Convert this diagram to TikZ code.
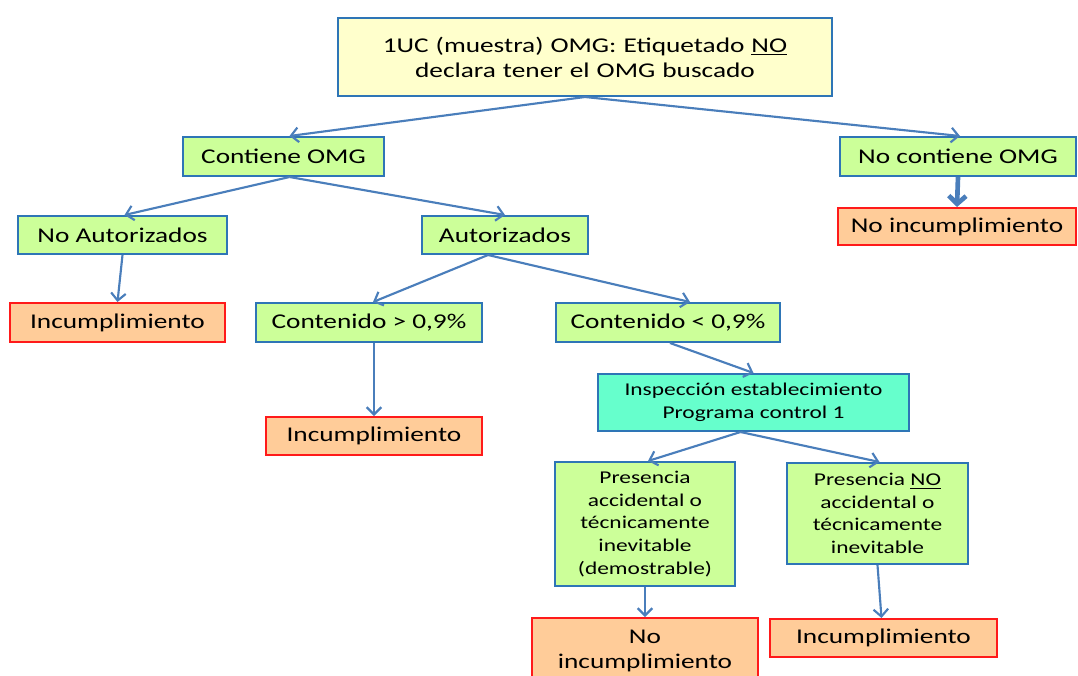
\documentclass[tikz,border=0pt]{standalone}
\usepackage{fontspec}
\setmainfont{Carlito}[FakeStretch=1.3]
\usetikzlibrary{arrows.meta,calc}
\definecolor{bbord}{HTML}{2E75B6}
\definecolor{bdark}{HTML}{1F5FA8}
\definecolor{rbord}{HTML}{FF1A1A}
\definecolor{yfill}{HTML}{FFFFCC}
\definecolor{gfill}{HTML}{CCFF99}
\definecolor{ofill}{HTML}{FFCC99}
\definecolor{cfill}{HTML}{66FFCC}
\definecolor{arr}{HTML}{4A7EBB}
\tikzset{
  basebox/.style={rectangle, inner sep=0pt, align=center, line width=1.5pt,
    font=\fontsize{15.75}{18.75}\selectfont},
  rshadow/.style={append after command={
      [draw=bdark, line width=2.6pt]
      ([xshift=-1.3pt,yshift=-0.75pt]\tikzlastnode.north east) --
      ([xshift=-1.3pt,yshift=0.75pt]\tikzlastnode.south east)}},
  ybox/.style={basebox, draw=bbord, fill=yfill, rshadow},
  gbox/.style={basebox, draw=bbord, fill=gfill, rshadow},
  obox/.style={basebox, draw=rbord, fill=ofill},
  cbox/.style={basebox, draw=bbord, fill=cfill, rshadow},
  smalltext/.style={font=\fontsize{13.5}{16.9}\selectfont},
  wh/.style 2 args={minimum width=#1*0.75pt, minimum height=#2*0.75pt},
  conn/.style={draw=arr, line width=1.6pt, -{Straight Barb[length=5.5pt,width=11pt,line width=1.6pt]}},
  thickconn/.style={draw=arr, line width=3.5pt, -{Straight Barb[length=6pt,width=13pt,line width=3.5pt]}}
}
\begin{document}
\begin{tikzpicture}[x=0.75pt,y=-0.75pt]
\useasboundingbox (0,0) rectangle (1078,675);
\clip (0,0) rectangle (1078,675);

\node[ybox, wh={494}{78}, text width=480*0.75pt] (top) at (585,57)
  {1UC (muestra) OMG: Etiquetado \underline{NO}\\declara tener el OMG buscado};
\node[gbox, wh={201}{39}] (cont) at (283.5,156.5) {Contiene OMG};
\node[gbox, wh={236}{39}] (nocont) at (958,156.5) {No contiene OMG};
\node[obox, wh={238}{37}] (noinc1) at (957,226.5) {No incumplimiento};
\node[gbox, wh={209}{38}] (noaut) at (122.5,235) {No Autorizados};
\node[gbox, wh={166}{38}] (aut) at (505,235) {Autorizados};
\node[obox, wh={215}{39}] (inc1) at (117.5,322.5) {Incumplimiento};
\node[gbox, wh={226}{39}] (cmay) at (369,322.5) {Contenido > 0,9\%};
\node[gbox, wh={224}{39}] (cmen) at (668,322.5) {Contenido < 0,9\%};
\node[cbox, smalltext, wh={311}{57}] (insp) at (753.5,402.5)
  {Inspección establecimiento\\Programa control 1};
\node[obox, wh={216}{38}] (inc2) at (374,436) {Incumplimiento};
\node[gbox, smalltext, wh={180}{124}] (pres1) at (645,524)
  {Presencia\\accidental o\\técnicamente\\inevitable\\(demostrable)};
\node[gbox, smalltext, wh={181}{101}] (pres2) at (877.5,513.5)
  {Presencia \underline{NO}\\accidental o\\técnicamente\\inevitable};
\node[obox, wh={226}{66}] (noinc2) at (645,651) {No\\incumplimiento};
\node[obox, wh={227}{38}] (inc3) at (883.5,638) {Incumplimiento};

\draw[conn] (top.south) -- ($(cont.north)+(6,0)$);
\draw[conn] (top.south) -- ($(nocont.north)+(2,0)$);
\draw[thickconn] (nocont.south) -- (noinc1.north);
\draw[conn] ($(cont.south)+(6,0)$) -- ($(noaut.north)+(2,0)$);
\draw[conn] ($(cont.south)+(6,0)$) -- (aut.north);
\draw[conn] (noaut.south) -- ($(inc1.north)+(0,0)$);
\draw[conn] ($(aut.south)+(-17,0)$) -- ($(cmay.north)+(4,0)$);
\draw[conn] ($(aut.south)+(-17,0)$) -- ($(cmen.north)+(22,0)$);
\draw[conn] ($(cmay.south)+(5,0)$) -- (inc2.north);
\draw[conn] ($(cmen.south)+(2,0)$) -- (insp.north);
\draw[conn] ($(insp.south)+(-13,0)$) -- ($(pres1.north)+(3,0)$);
\draw[conn] ($(insp.south)+(-13,0)$) -- ($(pres2.north)+(2,0)$);
\draw[conn] (pres1.south) -- (noinc2.north);
\draw[conn] (pres2.south) -- ($(inc3.north)+(-2,0)$);
\end{tikzpicture}
\end{document}
